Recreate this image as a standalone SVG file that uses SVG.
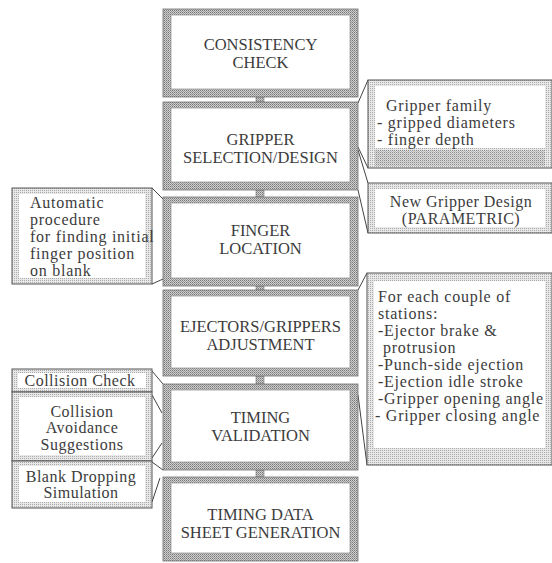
<svg xmlns="http://www.w3.org/2000/svg" width="552" height="563" viewBox="0 0 552 563">
<defs>
<pattern id="stip" width="2" height="2" patternUnits="userSpaceOnUse">
<rect width="2" height="2" fill="#cfcfcf"/>
<rect width="1" height="1" fill="#777"/>
<rect x="1" y="1" width="1" height="1" fill="#9a9a9a"/>
</pattern>
<pattern id="lstip" width="2" height="2" patternUnits="userSpaceOnUse">
<rect width="2" height="2" fill="#e8e8e8"/>
<rect width="1" height="1" fill="#ababab"/>
</pattern>
</defs>
<style>
.outer{fill:url(#stip);stroke:#707070;stroke-width:0.8}
.inner{fill:#fff;stroke:#9a9a9a;stroke-width:0.8}
.couter{fill:url(#lstip);stroke:#555;stroke-width:1}
.cinner{fill:#fff;stroke:none}
.band{fill:url(#stip);stroke:none}
text{font-family:'Liberation Serif','Times New Roman','DejaVu Serif',serif;fill:#3c3c3c}
.t{font-size:16.5px;text-anchor:middle}
.c{font-size:16px;letter-spacing:0.75px}
.cm{font-size:16px;letter-spacing:0.5px;text-anchor:middle}
.w{fill:none;stroke:#444;stroke-width:1}
.k{fill:url(#stip);stroke:#777;stroke-width:0.6}
</style>
<rect width="552" height="563" fill="#fff"/>

<g id="connectors">
<rect class="k" x="256" y="97" width="8" height="5"/>
<rect class="k" x="256" y="190" width="8" height="7"/>
<rect class="k" x="256" y="286" width="8" height="4"/>
<rect class="k" x="256" y="376" width="8" height="8"/>
<rect class="k" x="256" y="470" width="8" height="7"/>
<line class="w" x1="358" y1="103" x2="368" y2="80"/>
<line class="w" x1="358" y1="147" x2="368" y2="168"/>
<line class="w" x1="358" y1="150" x2="368" y2="183"/>
<line class="w" x1="358" y1="190" x2="368" y2="233"/>
<line class="w" x1="152" y1="188" x2="163" y2="199"/>
<line class="w" x1="152" y1="284" x2="163" y2="279"/>
<line class="w" x1="358" y1="290" x2="367" y2="273"/>
<line class="w" x1="358" y1="395" x2="367" y2="465"/>
<line class="w" x1="152" y1="371" x2="163" y2="384"/>
<line class="w" x1="152" y1="395" x2="162" y2="413"/>
<line class="w" x1="152" y1="458" x2="162" y2="443"/>
<line class="w" x1="152" y1="462" x2="163" y2="470"/>
<line class="w" x1="152" y1="502" x2="160" y2="478"/>
</g>

<g id="consistency-check">
<rect class="outer" x="163" y="9" width="195" height="88"/>
<rect class="inner" x="171" y="15" width="179" height="74"/>
<text class="t" x="260.5" y="50">CONSISTENCY</text>
<text class="t" x="260.5" y="68">CHECK</text>
</g>

<g id="gripper-selection">
<rect class="outer" x="163" y="102" width="195" height="88"/>
<rect class="inner" x="171" y="108" width="179" height="74"/>
<text class="t" x="260.5" y="145">GRIPPER</text>
<text class="t" x="260.5" y="163">SELECTION/DESIGN</text>
</g>

<g id="finger-location">
<rect class="outer" x="163" y="197" width="195" height="89"/>
<rect class="inner" x="171" y="203" width="179" height="75"/>
<text class="t" x="260.5" y="236">FINGER</text>
<text class="t" x="260.5" y="254">LOCATION</text>
</g>

<g id="ejectors-adjustment">
<rect class="outer" x="163" y="290" width="195" height="86"/>
<rect class="inner" x="171" y="296" width="179" height="72"/>
<text class="t" x="260.5" y="332">EJECTORS/GRIPPERS</text>
<text class="t" x="260.5" y="350">ADJUSTMENT</text>
</g>

<g id="timing-validation">
<rect class="outer" x="163" y="384" width="195" height="86"/>
<rect class="inner" x="171" y="390" width="179" height="72"/>
<text class="t" x="260.5" y="423">TIMING</text>
<text class="t" x="260.5" y="441">VALIDATION</text>
</g>

<g id="timing-data-sheet">
<rect class="outer" x="163" y="477" width="195" height="84"/>
<rect class="inner" x="171" y="483" width="179" height="70"/>
<text class="t" x="260.5" y="520">TIMING DATA</text>
<text class="t" x="260.5" y="538">SHEET GENERATION</text>
</g>

<g id="gripper-family">
<rect class="couter" x="368" y="80" width="184" height="88"/>
<rect class="cinner" x="375" y="86" width="170" height="62"/>
<rect class="band" x="375" y="150" width="170" height="16" opacity="0.55"/>
<text class="c" x="386" y="111">Gripper family</text>
<text class="c" x="377" y="128">- gripped diameters</text>
<text class="c" x="377" y="145">- finger depth</text>
</g>

<g id="new-gripper-design">
<rect class="couter" x="368" y="183" width="184" height="50"/>
<rect class="cinner" x="375" y="189" width="170" height="38"/>
<text class="cm" x="461" y="207">New Gripper Design</text>
<text class="cm" x="461" y="224">(PARAMETRIC)</text>
</g>

<g id="automatic-procedure">
<rect class="couter" x="12" y="188" width="140" height="96"/>
<rect class="cinner" x="19" y="194" width="126" height="84"/>
<text class="c" x="30" y="208">Automatic</text>
<text class="c" x="30" y="225">procedure</text>
<text class="c" x="30" y="242">for finding initial</text>
<text class="c" x="30" y="259">finger position</text>
<text class="c" x="30" y="276">on blank</text>
</g>

<g id="for-each-couple">
<rect class="couter" x="367" y="273" width="185" height="192"/>
<rect class="cinner" x="374" y="281" width="171" height="167"/>
<text class="c" x="378" y="302">For each couple of</text>
<text class="c" x="378" y="319">stations:</text>
<text class="c" x="378" y="336">-Ejector brake &amp;</text>
<text class="c" x="383" y="353">protrusion</text>
<text class="c" x="378" y="370">-Punch-side ejection</text>
<text class="c" x="378" y="387">-Ejection idle stroke</text>
<text class="c" x="378" y="404">-Gripper opening angle</text>
<text class="c" x="375" y="421">- Gripper closing angle</text>
</g>

<g id="collision-check">
<rect class="couter" x="12" y="369" width="140" height="23"/>
<rect class="cinner" x="18" y="373" width="128" height="15"/>
<text class="cm" x="80" y="386">Collision Check</text>
</g>

<g id="collision-avoidance">
<rect class="couter" x="12" y="392" width="140" height="69"/>
<rect class="cinner" x="19" y="397" width="126" height="58"/>
<text class="cm" x="82" y="417">Collision</text>
<text class="cm" x="82" y="433">Avoidance</text>
<text class="cm" x="82" y="450">Suggestions</text>
</g>

<g id="blank-dropping">
<rect class="couter" x="12" y="461" width="140" height="47"/>
<rect class="cinner" x="19" y="466" width="126" height="36"/>
<text class="cm" x="81" y="482">Blank Dropping</text>
<text class="cm" x="81" y="498">Simulation</text>
</g>
</svg>
